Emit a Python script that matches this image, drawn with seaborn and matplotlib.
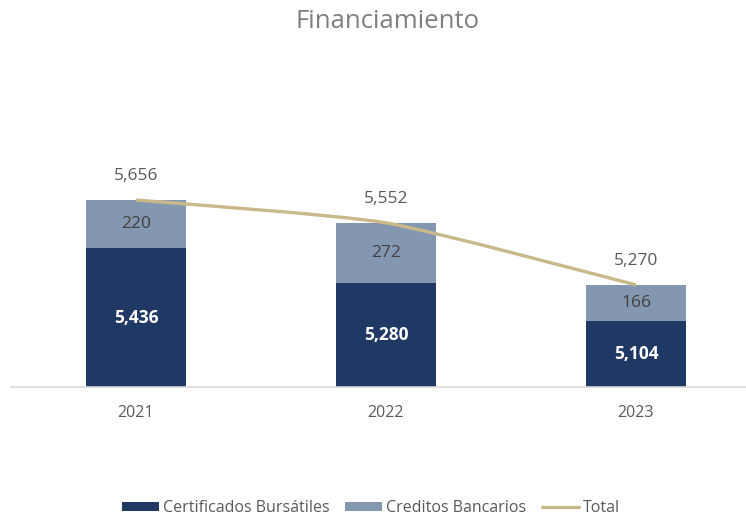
import matplotlib
matplotlib.use("Agg")
import matplotlib.pyplot as plt
import seaborn as sns
import pandas as pd
from matplotlib.path import Path
from matplotlib.patches import PathPatch, Patch
from matplotlib.lines import Line2D

years = ["2021", "2022", "2023"]
certificados = [5436, 5280, 5104]
creditos = [220, 272, 166]
totales = [5656, 5552, 5270]

DARK = "#203864"
LIGHT = "#8497B0"
GOLD = "#C8B88A"
GREY = "#595959"

sns.set_theme(style="white")
plt.rcParams["font.family"] = ["Open Sans", "DejaVu Sans"]

df = pd.DataFrame({"year": years, "cert": certificados, "cred": creditos, "total": totales})

W, H = 746, 518
fig = plt.figure(figsize=(W / 100, H / 100), dpi=100)
ax_bottom_px = 387
ax_top_px = 60
ax = fig.add_axes([11 / W, (H - ax_bottom_px) / H, (W - 11) / W, (ax_bottom_px - ax_top_px) / H])

ymin = 4806
scale = 0.22  # px per unit
ymax = ymin + (ax_bottom_px - ax_top_px) / scale

sns.barplot(data=df, x="year", y="total", color=LIGHT, saturation=1, width=0.4, ax=ax,
            linewidth=0, edgecolor="none")
sns.barplot(data=df, x="year", y="cert", color=DARK, saturation=1, width=0.4, ax=ax,
            linewidth=0, edgecolor="none")

ax.set_xlim(-0.5, 2.44)
ax.set_ylim(ymin, ymax)
for s in ["top", "right", "left"]:
    ax.spines[s].set_visible(False)
ax.spines["bottom"].set_color("#D9D9D9")
ax.spines["bottom"].set_linewidth(1.2)
ax.set_yticks([])
ax.set_xlabel("")
ax.set_ylabel("")
ax.tick_params(axis="x", length=0, pad=13, labelsize=11.5, labelcolor=GREY)

# smooth total line (Bezier through the data points)
k = 0.1
xs = list(range(len(totales)))
pts = list(zip(xs, totales))
ext = [pts[0]] + pts + [pts[-1]]
verts = [pts[0]]
codes = [Path.MOVETO]
for i in range(1, len(ext) - 2):
    p0, p1, p2, p3 = ext[i - 1], ext[i], ext[i + 1], ext[i + 2]
    c1 = (p1[0] + (p2[0] - p0[0]) * k, p1[1] + (p2[1] - p0[1]) * k)
    c2 = (p2[0] - (p3[0] - p1[0]) * k, p2[1] - (p3[1] - p1[1]) * k)
    verts += [c1, c2, p2]
    codes += [Path.CURVE4] * 3
ax.add_patch(PathPatch(Path(verts, codes), facecolor="none", edgecolor=GOLD, lw=2.4,
                       capstyle="butt", zorder=5))

for i in range(len(years)):
    ax.text(i, (ymin + certificados[i]) / 2, f"{certificados[i]:,}", ha="center", va="center",
            color="white", fontsize=12.5, fontweight="bold", zorder=6)
    ax.text(i, certificados[i] + creditos[i] / 2, f"{creditos[i]:,}", ha="center", va="center",
            color="#404040", fontsize=12.5, zorder=6)
    ax.annotate(f"{totales[i]:,}", (i, totales[i]), xytext=(0, 24), textcoords="offset pixels",
                ha="center", va="center", color=GREY, fontsize=12.5, zorder=6)

fig.text(388 / W, 1 - 22 / H, "Financiamiento", ha="center", va="center", color="#7F7F7F",
         fontsize=18.5)

handles = [Patch(facecolor=DARK, edgecolor="none"),
           Patch(facecolor=LIGHT, edgecolor="none"),
           Line2D([0], [0], color=GOLD, lw=2.4)]
labels = ["Certificados Bursátiles", "Creditos Bancarios", "Total"]
fig.legend(handles, labels, loc="center", bbox_to_anchor=(371 / W, 1 - 508 / H), ncol=3,
           frameon=False, fontsize=11.5, labelcolor=GREY, handlelength=2.3, handleheight=0.5,
           handletextpad=0.25, columnspacing=1.0)

fig.savefig("out.png", dpi=100)
